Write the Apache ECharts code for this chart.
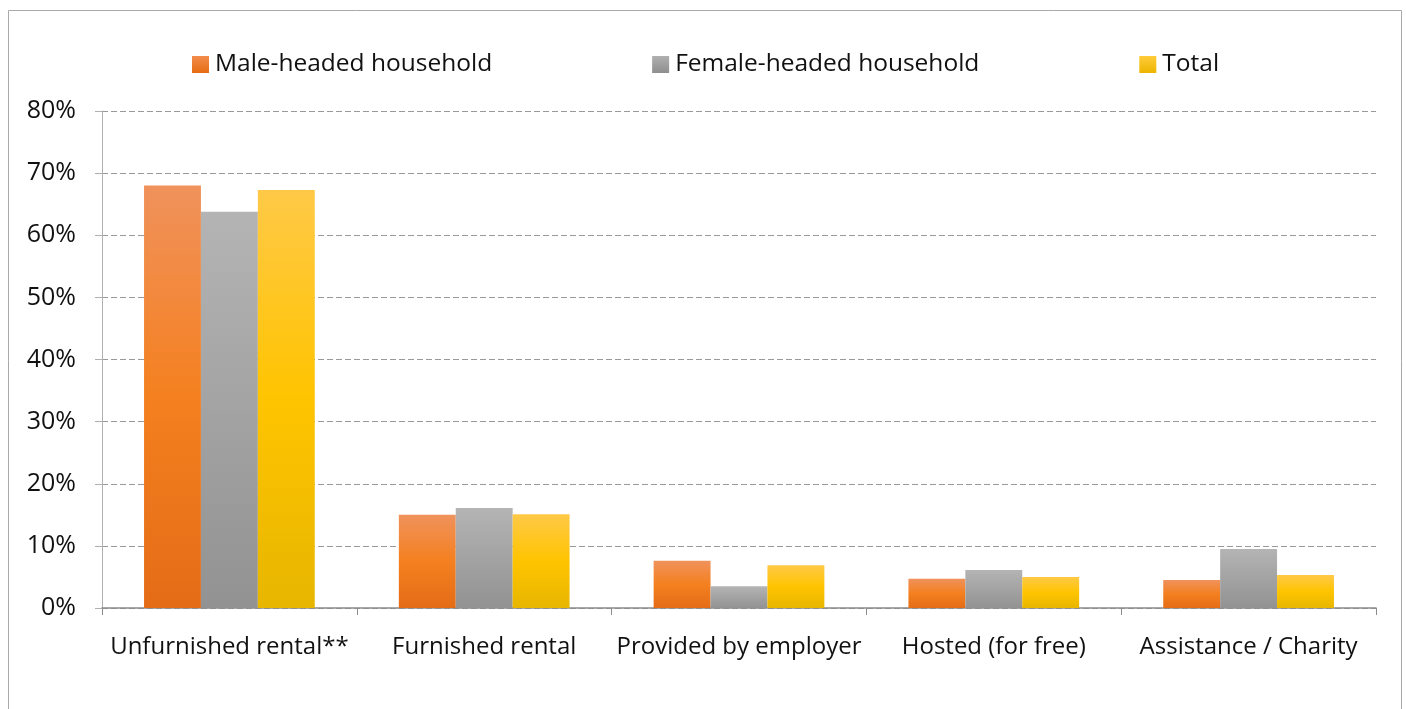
<!DOCTYPE html>
<html><head><meta charset="utf-8">
<script src="https://cdn.jsdelivr.net/npm/echarts@6/dist/echarts.min.js"></script>
<style>html,body{margin:0;padding:0;background:#fff}#c{width:1406px;height:709px}</style>
</head><body><div id="c"></div>
<script>
const categories = ['Unfurnished rental**', 'Furnished rental', 'Provided by employer', 'Hosted (for free)', 'Assistance / Charity'];
const seriesNames = ['Male-headed household', 'Female-headed household', 'Total'];
const maleValues = [68.0, 15.0, 7.6, 4.7, 4.5];
const femaleValues = [63.8, 16.1, 3.5, 6.1, 9.5];
const totalValues = [67.3, 15.1, 6.9, 5.0, 5.3];
const yTicks = [0, 10, 20, 30, 40, 50, 60, 70, 80];

const font = 'Open Sans, Noto Sans, sans-serif';
function grad(stops){
  return new echarts.graphic.LinearGradient(0,0,0,1, stops.map((c,i)=>({offset:i/(stops.length-1), color:c})));
}
const colors = [
  grad(['#F0925C','#F4801F','#E46C17']),
  grad(['#B4B4B4','#A3A3A3','#929292']),
  grad(['#FFC947','#FFC400','#E7B600'])
];
const legendColors = [grad(['#F28C4C','#E66C12']), grad(['#B0B0B0','#8E8E8E']), grad(['#FFCB3A','#EDB500'])];
const data = [maleValues, femaleValues, totalValues];

const chart = echarts.init(document.getElementById('c'), null, {renderer:'canvas'});
chart.setOption({
  animation:false,
  backgroundColor:'#fff',
  graphic:[{type:'rect', silent:true, shape:{x:8.5,y:10.5,width:1393,height:760}, style:{fill:'none', stroke:'#a9a9a9', lineWidth:1}}],
  legend:{
    top:47, left:187, itemGap:160, itemWidth:17, itemHeight:17,
    textStyle:{fontFamily:font, fontSize:24.5, color:'#111', padding:[0,0,0,1]},
    data: seriesNames.map((n,i)=>({name:n, icon:'rect', itemStyle:{color:legendColors[i]}}))
  },
  grid:{left:102, right:30, top:111, bottom:101, containLabel:false},
  xAxis:{
    type:'category', data:categories,
    axisLine:{lineStyle:{color:'#8c8c8c', width:1.5}},
    axisTick:{show:true, length:7, lineStyle:{color:'#8c8c8c'}},
    axisLabel:{fontFamily:font, fontSize:24, color:'#111', margin:27, interval:0}
  },
  yAxis:{
    type:'value', min:0, max:80, interval:10,
    axisLine:{show:true, lineStyle:{color:'#b0b0b0'}},
    axisTick:{show:true, length:7, lineStyle:{color:'#b0b0b0'}},
    axisLabel:{fontFamily:font, fontSize:25, color:'#111', margin:26, formatter:'{value}%'},
    splitLine:{lineStyle:{color:'#9a9a9a', type:[6,3], width:1}}
  },
  series: seriesNames.map((n,i)=>({
    name:n, type:'bar', data:data[i], barGap:'0%', barCategoryGap:'33%',
    itemStyle:{color:colors[i]}
  }))
});
</script></body></html>
